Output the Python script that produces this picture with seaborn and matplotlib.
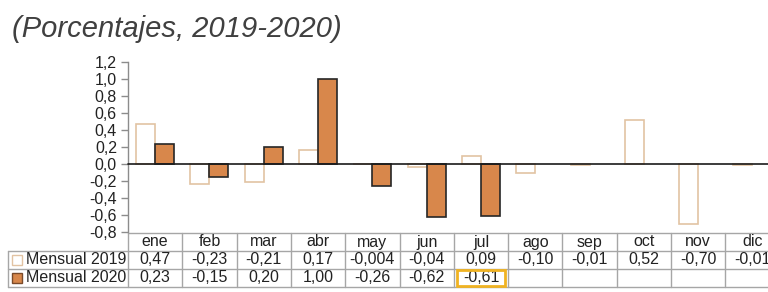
import numpy as np
import pandas as pd
import matplotlib
matplotlib.use('Agg')
import matplotlib.pyplot as plt
import matplotlib.transforms as mtransforms
from matplotlib.patches import Rectangle
import seaborn as sns

# Data
months = ['ene', 'feb', 'mar', 'abr', 'may', 'jun', 'jul', 'ago', 'sep', 'oct', 'nov', 'dic']
mensual_2019 = [0.47, -0.23, -0.21, 0.17, -0.004, -0.04, 0.09, -0.10, -0.01, 0.52, -0.70, -0.01]
mensual_2020 = [0.23, -0.15, 0.20, 1.00, -0.26, -0.62, -0.61, np.nan, np.nan, np.nan, np.nan, np.nan]
series = ['Mensual 2019', 'Mensual 2020']
y_ticks = [-0.8, -0.6, -0.4, -0.2, 0.0, 0.2, 0.4, 0.6, 0.8, 1.0, 1.2]

df = pd.DataFrame({
    'mes': months * 2,
    'serie': [series[0]] * 12 + [series[1]] * 12,
    'valor': mensual_2019 + mensual_2020,
})

sns.set_theme(style='white')
plt.rcParams['font.family'] = ['Liberation Sans', 'DejaVu Sans']

W, H = 768, 292
fig = plt.figure(figsize=(W / 100, H / 100), dpi=100)

# axes: left at 128px, top (1.2) at 62px, bottom (-0.8) at 232px, 54.3px per month
col_w = 54.3
ax = fig.add_axes([128 / W, (H - 232) / H, 12 * col_w / W, 170 / H])

face = {'Mensual 2019': '#ffffff', 'Mensual 2020': '#d8874b'}
edge = {'Mensual 2019': '#e2c3a3', 'Mensual 2020': '#262626'}

sns.barplot(data=df, x='mes', y='valor', hue='serie', order=months, hue_order=series,
            palette=face, saturation=1, width=0.7, gap=0, legend=False, ax=ax, linewidth=1.2)
for cont, s in zip(ax.containers, series):
    for bar in cont:
        bar.set_edgecolor(edge[s])
        bar.set_linewidth(1.2)

ax.set_xlim(-0.5, 11.5)
ax.set_ylim(-0.8, 1.2)
ax.set_yticks(y_ticks)
ax.set_yticklabels([f'{t:.1f}'.replace('.', ',') for t in y_ticks], fontsize=11.5, color='#222222')
ax.set_xticks([])
ax.set_xlabel('')
ax.set_ylabel('')
for side in ['top', 'right', 'bottom']:
    ax.spines[side].set_visible(False)
ax.spines['left'].set_color('#8c8c8c')
ax.spines['left'].set_linewidth(1.0)
ax.tick_params(axis='y', which='major', left=True, length=5, width=1.0, color='#8c8c8c', pad=3)
ax.axhline(0, color='#1a1a1a', linewidth=1.2, zorder=5, clip_on=False)

# data table under the plot
trans = mtransforms.blended_transform_factory(ax.transData, ax.transAxes)
def frac(ypx):
    return (232 - ypx) / 170.0

grid = '#a6a6a6'
y_rows = [233, 251, 269, 287]
x_left = -0.5 - (128 - 8) / col_w
x_right = 11.5
ax.plot([-0.5, x_right], [frac(y_rows[0])] * 2, color=grid, lw=1, transform=trans, clip_on=False)
for yp in y_rows[1:]:
    ax.plot([x_left, x_right], [frac(yp)] * 2, color=grid, lw=1, transform=trans, clip_on=False)
for i in range(13):
    ax.plot([i - 0.5] * 2, [frac(y_rows[0]), frac(y_rows[3])], color=grid, lw=1,
            transform=trans, clip_on=False)
ax.plot([x_left] * 2, [frac(y_rows[1]), frac(y_rows[3])], color=grid, lw=1,
        transform=trans, clip_on=False)

def fmt(v):
    if np.isnan(v):
        return ''
    if v != 0 and abs(v) < 0.01:
        return f'{v:.3f}'.replace('.', ',')
    return f'{v:.2f}'.replace('.', ',')

yc = [(y_rows[k] + y_rows[k + 1]) / 2 for k in range(3)]
for i, m in enumerate(months):
    ax.text(i, frac(yc[0]), m, ha='center', va='center', fontsize=11.5, color='#222222',
            transform=trans, clip_on=False)
    ax.text(i, frac(yc[1]), fmt(mensual_2019[i]), ha='center', va='center', fontsize=11.5,
            color='#222222', transform=trans, clip_on=False)
    ax.text(i, frac(yc[2]), fmt(mensual_2020[i]), ha='center', va='center', fontsize=11.5,
            color='#222222', transform=trans, clip_on=False)

# highlighted cell (jul 2020)
ax.add_patch(Rectangle((5.5 + 0.05, frac(y_rows[3] - 1)), 0.9, frac(y_rows[2] + 1) - frac(y_rows[3] - 1),
                       transform=trans, fill=False, edgecolor='#f0b323', lw=2, clip_on=False, zorder=6))

# row labels with legend keys
for k, s in enumerate(series):
    yk = yc[k + 1]
    fig.add_artist(Rectangle((12 / W, 1 - (yk + 5) / H), 10 / W, 10 / H, transform=fig.transFigure,
                             facecolor=face[s], edgecolor=edge[s] if k == 0 else '#7a4a2a', lw=1))
    fig.text(26 / W, 1 - yk / H, s, ha='left', va='center', fontsize=11.5, color='#222222')

fig.text(12 / W, 1 - 37 / H, '(Porcentajes, 2019-2020)', ha='left', va='baseline',
         fontsize=21, style='italic', color='#404040')

fig.savefig('out.png', dpi=100)
